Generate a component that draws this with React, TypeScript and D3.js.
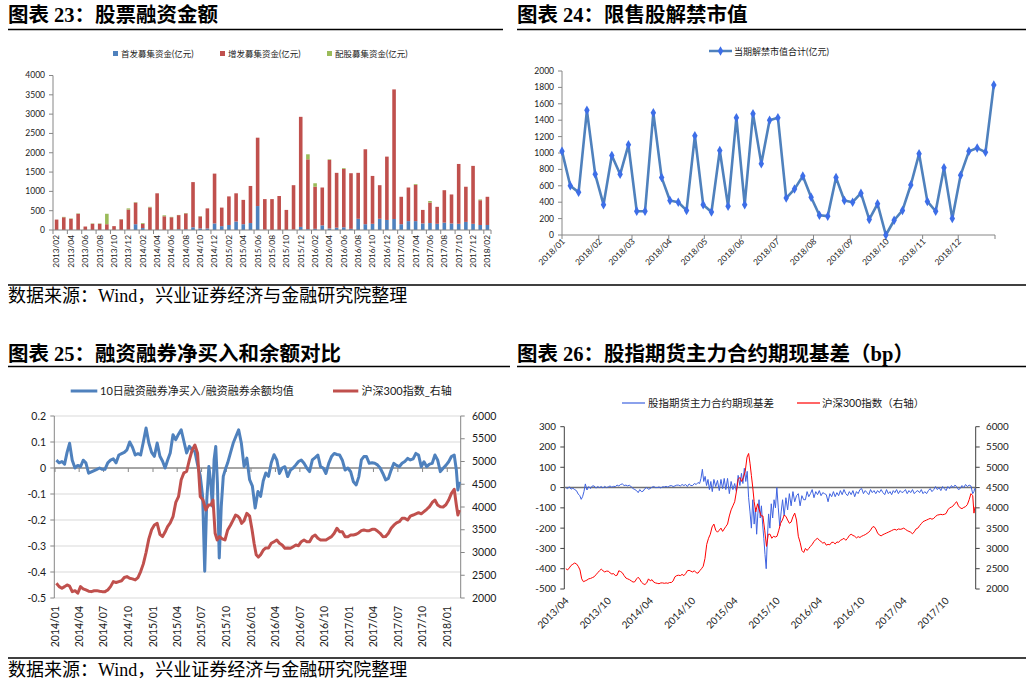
import React from "react";
import * as d3 from "d3";

const FONT = "Lato, 'Noto Sans CJK SC', sans-serif";
const TITLE_FONT = "'Liberation Serif', 'Noto Sans CJK SC', serif";

// ================= 图表23 股票融资金额 =================
const fundMonths = [
  "2013/02","2013/03","2013/04","2013/05","2013/06","2013/07","2013/08","2013/09","2013/10","2013/11","2013/12",
  "2014/01","2014/02","2014/03","2014/04","2014/05","2014/06","2014/07","2014/08","2014/09","2014/10","2014/11","2014/12",
  "2015/01","2015/02","2015/03","2015/04","2015/05","2015/06","2015/07","2015/08","2015/09","2015/10","2015/11","2015/12",
  "2016/01","2016/02","2016/03","2016/04","2016/05","2016/06","2016/07","2016/08","2016/09","2016/10","2016/11","2016/12",
  "2017/01","2017/02","2017/03","2017/04","2017/05","2017/06","2017/07","2017/08","2017/09","2017/10","2017/11","2017/12",
  "2018/01","2018/02",
];
const ipoFunds = [
  0,0,0,0,0,0,0,0,0,0,10,
  150,50,0,0,0,0,20,20,70,40,40,170,
  100,130,220,150,180,620,10,0,0,0,10,80,
  20,30,120,40,60,70,30,290,150,160,290,260,
  285,150,230,230,170,180,160,190,170,160,210,160,
  130,130,
];
const seoFunds = [
  270,330,290,420,90,160,160,150,100,275,520,
  560,110,585,950,355,330,365,410,1170,310,520,1290,
  480,740,730,630,960,1770,790,800,880,520,1150,2850,
  1810,1090,980,1775,1420,1510,1440,1190,1940,1240,870,1640,
  3355,710,870,940,350,530,440,840,750,1550,910,1500,
  640,730,
];
const rightsFunds = [
  0,10,10,10,0,10,10,270,0,5,30,
  10,20,15,0,25,10,5,10,0,10,0,0,
  0,0,0,0,0,0,0,0,0,0,0,0,
  130,90,0,15,0,20,0,0,0,0,0,0,
  0,0,0,20,0,40,0,0,0,0,0,0,
  20,0,
];
const fundTicks = [0, 500, 1000, 1500, 2000, 2500, 3000, 3500, 4000];
const fundSeriesNames = ["首发募集资金(亿元)", "增发募集资金(亿元)", "配股募集资金(亿元)"];
const fundColors = ["#4F81BD", "#C0504D", "#9BBB59"];

// ================= 图表24 限售股解禁市值 =================
const unlockDates = [
  "2018-01-01","2018-01-08","2018-01-15","2018-01-22","2018-01-29","2018-02-05","2018-02-12","2018-02-19","2018-02-26",
  "2018-03-05","2018-03-12","2018-03-19","2018-03-26","2018-04-02","2018-04-09","2018-04-16","2018-04-23","2018-04-30",
  "2018-05-07","2018-05-14","2018-05-21","2018-05-28","2018-06-04","2018-06-11","2018-06-18","2018-06-25",
  "2018-07-02","2018-07-09","2018-07-16","2018-07-23","2018-07-30","2018-08-06","2018-08-13","2018-08-20","2018-08-27",
  "2018-09-03","2018-09-10","2018-09-17","2018-09-24","2018-10-01","2018-10-08","2018-10-15","2018-10-22","2018-10-29",
  "2018-11-05","2018-11-12","2018-11-19","2018-11-26","2018-12-03","2018-12-10","2018-12-17","2018-12-24","2018-12-31",
];
const unlockValues = [
  1020,600,520,1520,740,370,970,740,1100,
  290,290,1490,700,420,400,300,1210,370,
  280,1030,350,1430,370,1480,870,1400,
  1430,450,560,720,460,240,230,700,420,
  400,510,190,380,0,180,300,610,990,
  410,290,820,200,730,1020,1060,1010,1830,
];
const unlockTicks = [0, 200, 400, 600, 800, 1000, 1200, 1400, 1600, 1800, 2000];
const unlockMonthLabels = ["2018/01","2018/02","2018/03","2018/04","2018/05","2018/06","2018/07","2018/08","2018/09","2018/10","2018/11","2018/12"];

// ================= 图表25 融资融券净买入和余额对比 =================
type MonthRow = [string, number[], number?];
const marginRatioRows: MonthRow[] = [
  ["2014-01", [0.03, 0.02, 0.025]],
  ["2014-02", [0.015, 0.06, 0.095]],
  ["2014-03", [0.03, 0.0, 0.01]],
  ["2014-04", [0.005, 0.03, 0.02]],
  ["2014-05", [-0.02, -0.015, -0.01]],
  ["2014-06", [-0.005, 0.0, -0.005]],
  ["2014-07", [-0.005, 0.02, 0.03]],
  ["2014-08", [0.035, 0.02, 0.05]],
  ["2014-09", [0.055, 0.06, 0.07]],
  ["2014-10", [0.1, 0.08, 0.05]],
  ["2014-11", [0.055, 0.05, 0.1]],
  ["2014-12", [0.154, 0.096, 0.06]],
  ["2015-01", [0.045, 0.096, 0.045]],
  ["2015-02", [0.026, 0.0, 0.03]],
  ["2015-03", [0.058, 0.128, 0.109]],
  ["2015-04", [0.13, 0.147, 0.103]],
  ["2015-05", [0.058, 0.083, 0.07]],
  ["2015-06", [0.064, 0.013, -0.03]],
  ["2015-07", [-0.109, -0.397, -0.122, 0.006]],
  ["2015-08", [-0.058, -0.147, 0.032, 0.083, -0.058]],
  ["2015-09", [-0.346, -0.147, -0.032, -0.006]],
  ["2015-10", [0.02, 0.058, 0.096]],
  ["2015-11", [0.122, 0.147, 0.096]],
  ["2015-12", [0.006, 0.038, -0.045]],
  ["2016-01", [-0.07, -0.154, -0.09]],
  ["2016-02", [-0.109, -0.05, -0.019]],
  ["2016-03", [-0.032, 0.02, 0.051]],
  ["2016-04", [0.031, -0.021, 0.0]],
  ["2016-05", [0.005, -0.033, -0.008]],
  ["2016-06", [0.0, 0.012, 0.025]],
  ["2016-07", [0.031, 0.018, 0.0]],
  ["2016-08", [-0.014, 0.031, 0.04]],
  ["2016-09", [0.05, 0.005, 0.0]],
  ["2016-10", [-0.021, 0.018, 0.044]],
  ["2016-11", [0.056, 0.052, 0.05]],
  ["2016-12", [0.03, -0.008, 0.0]],
  ["2017-01", [-0.014, -0.053, -0.065]],
  ["2017-02", [-0.033, 0.031, 0.044]],
  ["2017-03", [0.044, 0.018, 0.02]],
  ["2017-04", [0.018, 0.012, 0.0]],
  ["2017-05", [-0.021, -0.046, -0.04]],
  ["2017-06", [-0.008, 0.018, 0.01]],
  ["2017-07", [0.005, 0.018, 0.025]],
  ["2017-08", [0.037, 0.031, 0.035]],
  ["2017-09", [0.056, 0.05, 0.005]],
  ["2017-10", [0.024, 0.005, 0.015]],
  ["2017-11", [0.018, 0.05, 0.031]],
  ["2017-12", [-0.014, -0.001, 0.01]],
  ["2018-01", [0.024, 0.044, 0.05]],
  ["2018-02", [-0.008, -0.085, -0.053], 17],
];
const csi300RowsA: MonthRow[] = [
  ["2014-01", [2323, 2250, 2213]],
  ["2014-02", [2250, 2287, 2260]],
  ["2014-03", [2140, 2160, 2104]],
  ["2014-04", [2250, 2200, 2177]],
  ["2014-05", [2150, 2140, 2160]],
  ["2014-06", [2162, 2150, 2140]],
  ["2014-07", [2140, 2177, 2250]],
  ["2014-08", [2360, 2340, 2360]],
  ["2014-09", [2380, 2450, 2470]],
  ["2014-10", [2433, 2420, 2397]],
  ["2014-11", [2450, 2580, 2750]],
  ["2014-12", [3000, 3300, 3500]],
  ["2015-01", [3605, 3641, 3400]],
  ["2015-02", [3350, 3450, 3568]],
  ["2015-03", [3650, 3787, 4100]],
  ["2015-04", [4227, 4600, 4750]],
  ["2015-05", [4780, 5036, 5253]],
  ["2015-06", [5363, 5180, 4227]],
  ["2015-07", [4154, 3934, 4044]],
  ["2015-08", [4044, 4150, 3422, 3275]],
  ["2015-09", [3348, 3300, 3275]],
  ["2015-10", [3495, 3600, 3717]],
  ["2015-11", [3824, 3800, 3751, 3641]],
  ["2015-12", [3700, 3861, 3800]],
  ["2016-01", [3500, 3200, 2950, 2900]],
  ["2016-02", [2950, 3050, 3100]],
  ["2016-03", [3100, 3202, 3238]],
  ["2016-04", [3275, 3202, 3165]],
  ["2016-05", [3092, 3100, 3092]],
  ["2016-06", [3128, 3165, 3150]],
  ["2016-07", [3238, 3275, 3238]],
  ["2016-08", [3238, 3348, 3385]],
  ["2016-09", [3312, 3275, 3275]],
  ["2016-10", [3275, 3312, 3348]],
  ["2016-11", [3422, 3532, 3458]],
  ["2016-12", [3458, 3348, 3348]],
  ["2017-01", [3385, 3385, 3400]],
  ["2017-02", [3435, 3480, 3495]],
  ["2017-03", [3480, 3480, 3510]],
  ["2017-04", [3510, 3470, 3422]],
  ["2017-05", [3348, 3350, 3422]],
  ["2017-06", [3532, 3600, 3650]],
  ["2017-07", [3677, 3751, 3751]],
  ["2017-08", [3714, 3800, 3824]],
  ["2017-09", [3850, 3875, 3850]],
  ["2017-10", [3897, 3950, 4007]],
  ["2017-11", [4100, 4154, 4044]],
  ["2017-12", [4007, 4000, 4050]],
  ["2018-01", [4154, 4300, 4389]],
  ["2018-02", [4044, 3824, 3934], 17],
];
const ratioTicks = [-0.5, -0.4, -0.3, -0.2, -0.1, 0, 0.1, 0.2];
const ratioTickLabels = ["-0.5", "-0.4", "-0.3", "-0.2", "-0.1", "0", "0.1", "0.2"];
const indexTicks = [2000, 2500, 3000, 3500, 4000, 4500, 5000, 5500, 6000];
const quarterLabels = [
  "2014/01","2014/04","2014/07","2014/10","2015/01","2015/04","2015/07","2015/10",
  "2016/01","2016/04","2016/07","2016/10","2017/01","2017/04","2017/07","2017/10","2018/01",
];

// ================= 图表26 股指期货主力合约期现基差 =================
const basisRows: MonthRow[] = [
  ["2013-04", [0, -6, 4, -8]],
  ["2013-05", [-3, -10, -15, -32]],
  ["2013-06", [-40, -58, -45, -20, 18]],
  ["2013-07", [-12, 5, -5, 8]],
  ["2013-08", [8, -3, 5, 0]],
  ["2013-09", [5, -2, 6, 0]],
  ["2013-10", [3, 8, 2, 6]],
  ["2013-11", [5, 12, 8, 15]],
  ["2013-12", [18, 10, 12, 8]],
  ["2014-01", [12, 3, -5, -10]],
  ["2014-02", [-15, -25, -10, -20]],
  ["2014-03", [-18, -5, 0, -8]],
  ["2014-04", [-5, 2, 5, 0]],
  ["2014-05", [0, 3, -2, 4]],
  ["2014-06", [3, 6, 2, 8]],
  ["2014-07", [10, 5, 8, 12]],
  ["2014-08", [12, 8, 15, 10]],
  ["2014-09", [15, 5, 18, 10]],
  ["2014-10", [10, 20, 15, 25]],
  ["2014-11", [20, 45, 90, 30, 55]],
  ["2014-12", [10, 40, -10, 30, -20]],
  ["2015-01", [40, 5, 35, -15]],
  ["2015-02", [40, -5, 45, -10]],
  ["2015-03", [45, -30, 30, -10]],
  ["2015-04", [20, -20, 60, 10]],
  ["2015-05", [70, 20, 95, 30, 80]],
  ["2015-06", [-50, -120, -200, -60, -180]],
  ["2015-07", [-100, -230, -130, -60, -150, -90]],
  ["2015-08", [-180, -250, -330, -400, -250, -130]],
  ["2015-09", [-200, -80, -150, -60, -100]],
  ["2015-10", [0, -100, -190, -120, -60]],
  ["2015-11", [-140, -50, -110, -30]],
  ["2015-12", [-90, -20, -70, -40]],
  ["2016-01", [-30, -90, -40, -60]],
  ["2016-02", [-60, -20, -45, -30]],
  ["2016-03", [-10, -50, -20, -35]],
  ["2016-04", [-15, -40, -25, -30]],
  ["2016-05", [-35, -70, -30, -45]],
  ["2016-06", [-20, -45, -25, -40]],
  ["2016-07", [-15, -35, -10, -30]],
  ["2016-08", [-40, -20, -35, -15]],
  ["2016-09", [-45, -20, -30, -10]],
  ["2016-10", [-5, -30, -15, -25]],
  ["2016-11", [-35, -10, -25, -15]],
  ["2016-12", [-30, -15, -25, -10]],
  ["2017-01", [-25, -35, -10, -30]],
  ["2017-02", [-20, -35, -15, -25]],
  ["2017-03", [-10, -30, -15, -25]],
  ["2017-04", [-20, -10, -30, -15]],
  ["2017-05", [-25, -10, -30, -20]],
  ["2017-06", [-15, -25, -10, -30]],
  ["2017-07", [-20, -30, -15, -5]],
  ["2017-08", [-20, -10, 5, -10]],
  ["2017-09", [0, -15, 5, -5]],
  ["2017-10", [-15, 5, -5, 10]],
  ["2017-11", [0, 12, 5, -10]],
  ["2017-12", [-5, 10, 0, 15]],
  ["2018-01", [5, 12, 8, -30]],
  ["2018-02", [-20, -5, -12], 9],
];
const csi300RowsB: MonthRow[] = [
  ["2013-04", [2500, 2470, 2520, 2580]],
  ["2013-05", [2610, 2640, 2620, 2560]],
  ["2013-06", [2470, 2250, 2180, 2200]],
  ["2013-07", [2220, 2250, 2260, 2280]],
  ["2013-08", [2300, 2350, 2400, 2450]],
  ["2013-09", [2490, 2450, 2420, 2440]],
  ["2013-10", [2440, 2400, 2370, 2380]],
  ["2013-11", [2330, 2340, 2450, 2430]],
  ["2013-12", [2400, 2330, 2270, 2250]],
  ["2014-01", [2230, 2200, 2170, 2180]],
  ["2014-02", [2250, 2290, 2240, 2170]],
  ["2014-03", [2130, 2110, 2150, 2250]],
  ["2014-04", [2200, 2230, 2170, 2150]],
  ["2014-05", [2140, 2130, 2150, 2150]],
  ["2014-06", [2140, 2150, 2140, 2160]],
  ["2014-07", [2160, 2200, 2300, 2330]],
  ["2014-08", [2340, 2330, 2360, 2330]],
  ["2014-09", [2380, 2450, 2460, 2440]],
  ["2014-10", [2420, 2450, 2400, 2390]],
  ["2014-11", [2450, 2500, 2560, 2750]],
  ["2014-12", [3100, 3250, 3350, 3530]],
  ["2015-01", [3600, 3450, 3400, 3450]],
  ["2015-02", [3500, 3420, 3480, 3540]],
  ["2015-03", [3600, 3800, 3950, 4050]],
  ["2015-04", [4150, 4400, 4700, 4750]],
  ["2015-05", [4650, 4750, 4900, 5250]],
  ["2015-06", [5340, 5100, 4800, 4500, 4150]],
  ["2015-07", [3900, 4100, 3950, 3800]],
  ["2015-08", [3800, 3450, 3050, 3350]],
  ["2015-09", [3350, 3250, 3300, 3280]],
  ["2015-10", [3300, 3450, 3620, 3700]],
  ["2015-11", [3820, 3790, 3700, 3620]],
  ["2015-12", [3650, 3780, 3870, 3700]],
  ["2016-01", [3300, 3150, 2950, 2900]],
  ["2016-02", [3000, 2950, 3000, 3050]],
  ["2016-03", [3100, 3170, 3220, 3250]],
  ["2016-04", [3200, 3170, 3130, 3150]],
  ["2016-05", [3080, 3100, 3090, 3150]],
  ["2016-06", [3150, 3110, 3160, 3150]],
  ["2016-07", [3200, 3220, 3250, 3200]],
  ["2016-08", [3250, 3320, 3350, 3320]],
  ["2016-09", [3300, 3260, 3290, 3270]],
  ["2016-10", [3300, 3320, 3340, 3370]],
  ["2016-11", [3400, 3450, 3520, 3540]],
  ["2016-12", [3480, 3380, 3330, 3310]],
  ["2017-01", [3340, 3360, 3380, 3400]],
  ["2017-02", [3420, 3440, 3460, 3470]],
  ["2017-03", [3450, 3480, 3470, 3480]],
  ["2017-04", [3500, 3470, 3440, 3420]],
  ["2017-05", [3400, 3360, 3410, 3480]],
  ["2017-06", [3500, 3560, 3610, 3660]],
  ["2017-07", [3680, 3700, 3720, 3740]],
  ["2017-08", [3720, 3740, 3790, 3820]],
  ["2017-09", [3830, 3840, 3830, 3840]],
  ["2017-10", [3860, 3950, 4000, 4020]],
  ["2017-11", [4050, 4110, 4150, 4050]],
  ["2017-12", [4000, 3980, 4010, 4030]],
  ["2018-01", [4080, 4200, 4350, 4300]],
  ["2018-02", [3870, 3990, 4030], 9],
];
const basisTicks = [-500, -400, -300, -200, -100, 0, 100, 200, 300];
const halfYearLabels = ["2013/04","2013/10","2014/04","2014/10","2015/04","2015/10","2016/04","2016/10","2017/04","2017/10"];

// ================= helpers =================
type Pt = { date: Date; value: number };
const parseMonth = d3.timeParse("%Y-%m");
const parseSlashMonth = d3.timeParse("%Y/%m");
const parseDay = d3.timeParse("%Y-%m-%d");

function expandMonthly(rows: MonthRow[]): Pt[] {
  const pts: Pt[] = [];
  for (const [m, vals, span] of rows) {
    const start = parseMonth(m)!;
    const days = span ?? d3.timeDay.count(start, d3.timeMonth.offset(start, 1));
    vals.forEach((v, i) => {
      pts.push({ date: new Date(+start + ((i + 0.5) * days / vals.length) * 864e5), value: v });
    });
  }
  return pts;
}

const AX = "#868686";
const TXT = "#1a1a1a";

// ================= Panel 23 =================
function Panel23() {
  const x = d3.scaleBand<string>().domain(fundMonths).range([53, 491]);
  const y = d3.scaleLinear().domain([0, 4000]).range([230, 75.5]);
  const bw = x.bandwidth() * 0.5;
  const rows = fundMonths.map((m, i) => ({ month: m, ipo: ipoFunds[i], seo: seoFunds[i], rights: rightsFunds[i] }));
  const stack = d3.stack<any>().keys(["ipo", "seo", "rights"])(rows);
  const legendX = [113, 220, 327];
  return (
    <g fontFamily={FONT}>
      {fundSeriesNames.map((n, i) => (
        <g key={n}>
          <rect x={legendX[i]} y={51} width={5} height={5} fill={fundColors[i]} />
          <text x={legendX[i] + 8} y={56.5} fontSize={8.5} fill={TXT}>{n}</text>
        </g>
      ))}
      {stack.map((layer, li) => (
        <g key={li} fill={fundColors[li]}>
          {layer.map((d, i) => {
            const h = y(d[0]) - y(d[1]);
            if (h <= 0) return null;
            return <rect key={i} x={x(fundMonths[i])! + (x.bandwidth() - bw) / 2} y={y(d[1])} width={bw} height={h} />;
          })}
        </g>
      ))}
      <line x1={53} x2={53} y1={75.5} y2={230} stroke={AX} />
      {fundTicks.map((t) => (
        <g key={t}>
          <line x1={49} x2={53} y1={y(t)} y2={y(t)} stroke={AX} />
          <text x={45} y={y(t)} dy="0.35em" textAnchor="end" fontSize={8.5} fill={TXT}>{t}</text>
        </g>
      ))}
      <line x1={53} x2={491} y1={230} y2={230} stroke={AX} />
      {fundMonths.map((m, i) =>
        i % 2 === 0 ? (
          <g key={m}>
            <line x1={x(m)!} x2={x(m)!} y1={230} y2={234} stroke={AX} />
            <text transform={`translate(${x(m)! + x.bandwidth() / 2},235) rotate(-90)`} dy="0.35em" textAnchor="end" fontSize={8.3} fill={TXT}>{m}</text>
          </g>
        ) : null
      )}
      <line x1={491} x2={491} y1={230} y2={234} stroke={AX} />
    </g>
  );
}

// ================= Panel 24 =================
function Panel24() {
  const x = d3.scaleTime().domain([parseDay("2018-01-01")!, parseDay("2019-01-01")!]).range([562, 995]);
  const y = d3.scaleLinear().domain([0, 2000]).range([235, 71]);
  const pts = unlockDates.map((d, i) => ({ date: parseDay(d)!, value: unlockValues[i] }));
  const line = d3.line<Pt>().x((d) => x(d.date)).y((d) => y(d.value));
  const diamond = d3.symbol().type(d3.symbolDiamond).size(26)()!;
  const monthTicks = d3.timeMonth.range(parseDay("2018-01-01")!, parseDay("2019-01-02")!);
  return (
    <g fontFamily={FONT}>
      <line x1={709} x2={732} y1={51} y2={51} stroke="#4F81BD" strokeWidth={2.5} />
      <path d={diamond} transform="translate(720.5,51)" fill="#3D6EE8" />
      <text x={734} y={54.5} fontSize={9} fill={TXT}>当期解禁市值合计(亿元)</text>
      <line x1={562} x2={562} y1={71} y2={235} stroke={AX} />
      {unlockTicks.map((t) => (
        <g key={t}>
          <line x1={558} x2={562} y1={y(t)} y2={y(t)} stroke={AX} />
          <text x={554} y={y(t)} dy="0.35em" textAnchor="end" fontSize={8.5} fill={TXT}>{t}</text>
        </g>
      ))}
      <line x1={562} x2={995} y1={235} y2={235} stroke={AX} />
      {monthTicks.map((d, i) => (
        <g key={i}>
          <line x1={x(d)} x2={x(d)} y1={235} y2={239} stroke={AX} />
        </g>
      ))}
      {unlockMonthLabels.map((l) => {
        const xx = x(parseSlashMonth(l)!);
        return (
          <text key={l} transform={`translate(${xx + 1.5},240) rotate(-45)`} dy="0.35em" textAnchor="end" fontSize={8.5} fill={TXT}>{l}</text>
        );
      })}
      <path d={line(pts)!} fill="none" stroke="#4F81BD" strokeWidth={2.6} strokeLinejoin="round" />
      {pts.map((p, i) => (
        <path key={i} d={diamond} transform={`translate(${x(p.date)},${y(p.value)})`} fill="#3D6EE8" />
      ))}
    </g>
  );
}

// ================= Panel 25 =================
function Panel25() {
  const x = d3.scaleTime().domain([parseDay("2014-01-01")!, parseDay("2018-02-20")!]).range([55, 460.7]);
  const yL = d3.scaleLinear().domain([-0.5, 0.2]).range([598, 416]);
  const yR = d3.scaleLinear().domain([2000, 6000]).range([598, 416]);
  const blue = expandMonthly(marginRatioRows);
  const red = expandMonthly(csi300RowsA);
  const lineL = d3.line<Pt>().x((d) => x(d.date)).y((d) => yL(d.value));
  const lineR = d3.line<Pt>().x((d) => x(d.date)).y((d) => yR(d.value));
  const y0 = yL(0);
  return (
    <g fontFamily={FONT}>
      <line x1={70.7} x2={97.3} y1={391} y2={391} stroke="#4F81BD" strokeWidth={3} />
      <text x={100} y={395} fontSize={11} fill={TXT}>10日融资融券净买入/融资融券余额均值</text>
      <line x1={333} x2={358.3} y1={391} y2={391} stroke="#C0504D" strokeWidth={3} />
      <text x={361.5} y={395} fontSize={11} fill={TXT}>沪深300指数_右轴</text>
      {ratioTicks.map((t) => (t === 0 ? null : (
        <line key={t} x1={54.3} x2={460.7} y1={yL(t)} y2={yL(t)} stroke="#D9D9D9" strokeWidth={1} />
      )))}
      <line x1={54.3} x2={54.3} y1={416} y2={598} stroke={AX} />
      {ratioTicks.map((t, i) => (
        <g key={t}>
          <line x1={50.3} x2={54.3} y1={yL(t)} y2={yL(t)} stroke={AX} />
          <text x={46} y={yL(t)} dy="0.35em" textAnchor="end" fontSize={10.5} fill={TXT}>{ratioTickLabels[i]}</text>
        </g>
      ))}
      <line x1={460.7} x2={460.7} y1={416} y2={598} stroke={AX} />
      {indexTicks.map((t) => (
        <g key={t}>
          <line x1={460.7} x2={464.7} y1={yR(t)} y2={yR(t)} stroke={AX} />
          <text x={472} y={yR(t)} dy="0.35em" fontSize={10.5} fill={TXT}>{t}</text>
        </g>
      ))}
      <line x1={54.3} x2={460.7} y1={y0} y2={y0} stroke={AX} strokeWidth={1.3} />
      {quarterLabels.map((l) => {
        const xx = x(parseSlashMonth(l)!);
        return (
          <g key={l}>
            <line x1={xx} x2={xx} y1={y0} y2={y0 + 4} stroke={AX} />
            <text transform={`translate(${xx},606) rotate(-90)`} dy="0.35em" textAnchor="end" fontSize={10.5} fill={TXT}>{l}</text>
          </g>
        );
      })}
      <path d={lineL(blue)!} fill="none" stroke="#4F81BD" strokeWidth={3} strokeLinejoin="round" />
      <path d={lineR(red)!} fill="none" stroke="#C0504D" strokeWidth={3} strokeLinejoin="round" />
    </g>
  );
}

// ================= Panel 26 =================
function Panel26() {
  const x = d3.scaleTime().domain([parseDay("2013-04-01")!, parseDay("2018-02-10")!]).range([565, 975.7]);
  const yL = d3.scaleLinear().domain([-500, 300]).range([589, 426.7]);
  const yR = d3.scaleLinear().domain([2000, 6000]).range([589, 426.7]);
  const blue = expandMonthly(basisRows);
  const red = expandMonthly(csi300RowsB);
  const lineL = d3.line<Pt>().x((d) => x(d.date)).y((d) => yL(d.value));
  const lineR = d3.line<Pt>().x((d) => x(d.date)).y((d) => yR(d.value));
  return (
    <g fontFamily={FONT}>
      <line x1={622} x2={645} y1={403} y2={403} stroke="#3F63E0" strokeWidth={1.2} />
      <text x={648} y={406.5} fontSize={10.5} fill={TXT}>股指期货主力合约期现基差</text>
      <line x1={797} x2={820} y1={403} y2={403} stroke="#FF0000" strokeWidth={1.2} />
      <text x={822} y={406.5} fontSize={10.5} fill={TXT}>沪深300指数（右轴）</text>
      <line x1={564.3} x2={564.3} y1={426.7} y2={589} stroke="#404040" />
      {basisTicks.map((t) => (
        <g key={t}>
          <line x1={560.3} x2={564.3} y1={yL(t)} y2={yL(t)} stroke="#404040" />
          <text x={556} y={yL(t)} dy="0.35em" textAnchor="end" fontSize={9.8} fill={TXT}>{t}</text>
        </g>
      ))}
      <line x1={975.7} x2={975.7} y1={426.7} y2={589} stroke="#404040" />
      {indexTicks.map((t) => (
        <g key={t}>
          <line x1={975.7} x2={979.7} y1={yR(t)} y2={yR(t)} stroke="#404040" />
          <text x={986} y={yR(t)} dy="0.35em" fontSize={9.8} fill={TXT}>{t}</text>
        </g>
      ))}
      <line x1={564.3} x2={975.7} y1={yL(0)} y2={yL(0)} stroke="#707070" strokeWidth={1.5} />
      {halfYearLabels.map((l) => {
        const xx = x(parseSlashMonth(l)!);
        return (
          <text key={l} transform={`translate(${xx + 2},599) rotate(-45)`} dy="0.35em" textAnchor="end" fontSize={10} fill={TXT}>{l}</text>
        );
      })}
      <path d={lineL(blue)!} fill="none" stroke="#3F63E0" strokeWidth={1} strokeLinejoin="round" />
      <path d={lineR(red)!} fill="none" stroke="#FF0000" strokeWidth={1} strokeLinejoin="round" />
    </g>
  );
}

export default function App() {
  const source = "数据来源：Wind，兴业证券经济与金融研究院整理";
  return (
    <svg width={1034} height={687} viewBox="0 0 1034 687" style={{ position: "absolute", left: 0, top: 0, display: "block" }}>
      <rect x={0} y={0} width={1034} height={687} fill="#fff" />
      <g fontFamily={TITLE_FONT} fontWeight="bold" fontSize={20.5} fill="#000">
        <text x={8} y={22}>图表 23：股票融资金额</text>
        <text x={517} y={22}>图表 24：限售股解禁市值</text>
        <text x={8} y={361}>图表 25：融资融券净买入和余额对比</text>
        <text x={517} y={361}>图表 26：股指期货主力合约期现基差（bp）</text>
      </g>
      <g stroke="#000" strokeWidth={1.4}>
        <line x1={8} x2={503} y1={29.5} y2={29.5} />
        <line x1={517} x2={1026} y1={29.5} y2={29.5} />
        <line x1={8} x2={510} y1={366.5} y2={366.5} />
        <line x1={517} x2={1026} y1={366.5} y2={366.5} />
        <line x1={8} x2={1026} y1={285} y2={285} />
        <line x1={8} x2={1026} y1={658} y2={658} />
      </g>
      <g fontFamily={TITLE_FONT} fontSize={18} fill="#000">
        <text x={8} y={302}>{source}</text>
        <text x={8} y={676}>{source}</text>
      </g>
      <Panel23 />
      <Panel24 />
      <Panel25 />
      <Panel26 />
    </svg>
  );
}
